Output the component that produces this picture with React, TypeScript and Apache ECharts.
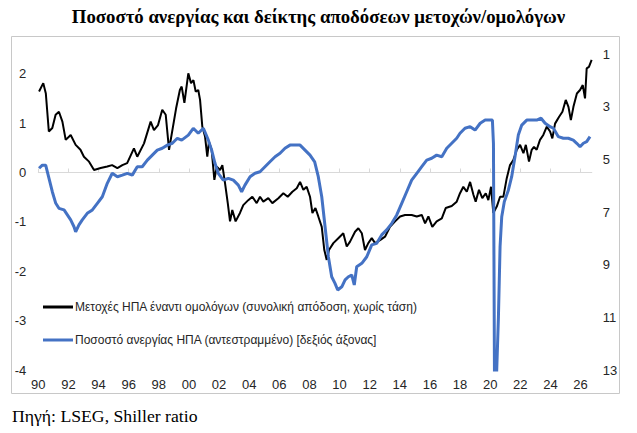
import React, { useEffect, useRef } from "react";
import * as echarts from "echarts";

const TITLE = "Ποσοστό ανεργίας και δείκτης αποδόσεων μετοχών/ομολόγων";
const SOURCE = "Πηγή: LSEG, Shiller ratio";
const SERIES_NAMES = [
  "Μετοχές ΗΠΑ έναντι ομολόγων (συνολική απόδοση, χωρίς τάση)",
  "Ποσοστό ανεργίας ΗΠΑ (αντεστραμμένο) [δεξιός άξονας]",
];

// Stocks vs bonds (detrended total return), left axis
const stockYears = [
  1990.05, 1990.33, 1990.5, 1990.7, 1990.93, 1991.15, 1991.37, 1991.6, 1991.82, 1992.15,
  1992.48, 1992.8, 1993.03, 1993.37, 1993.7, 1994.14, 1994.58, 1994.9, 1995.25, 1995.58,
  1995.9, 1996.35, 1996.57, 1997.02, 1997.46, 1997.68, 1997.95, 1998.23, 1998.46, 1998.68,
  1999.0, 1999.15, 1999.4, 1999.52, 1999.7, 1999.96, 2000.14, 2000.3, 2000.45, 2000.62,
  2000.74, 2000.89, 2001.07, 2001.22, 2001.33, 2001.51, 2001.69, 2001.85, 2002.07, 2002.22,
  2002.4, 2002.58, 2002.73, 2002.88, 2003.1, 2003.39, 2003.61, 2003.94, 2004.21, 2004.5,
  2004.72, 2004.94, 2005.27, 2005.54, 2005.94, 2006.27, 2006.56, 2006.87, 2007.16, 2007.38,
  2007.6, 2007.82, 2008.04, 2008.2, 2008.4, 2008.59, 2008.82, 2008.99, 2009.15, 2009.3,
  2009.59, 2009.92, 2010.25, 2010.48, 2010.7, 2011.03, 2011.25, 2011.48, 2011.69, 2011.91,
  2012.14, 2012.36, 2012.69, 2013.02, 2013.35, 2013.69, 2014.02, 2014.35, 2014.79, 2015.13,
  2015.46, 2015.68, 2015.9, 2016.16, 2016.45, 2016.79, 2017.05, 2017.45, 2017.78, 2018.0,
  2018.22, 2018.45, 2018.67, 2018.89, 2019.04, 2019.26, 2019.48, 2019.71, 2019.88, 2020.06,
  2020.21, 2020.44, 2020.66, 2020.88, 2021.1, 2021.32, 2021.54, 2021.77, 2021.99, 2022.21,
  2022.37, 2022.58, 2022.76, 2022.91, 2023.09, 2023.31, 2023.53, 2023.76, 2023.98, 2024.13,
  2024.31, 2024.58, 2024.8, 2025.02, 2025.2, 2025.36, 2025.53, 2025.76, 2025.97, 2026.15,
  2026.3, 2026.41, 2026.56, 2026.74,
];
const stockValues = [
  1.64, 1.81, 1.6, 0.83, 0.9, 1.17, 1.23, 1.03, 0.66, 0.76,
  0.56, 0.46, 0.32, 0.22, 0.05, 0.09, 0.12, 0.15, 0.09, 0.15,
  0.19, 0.49, 0.32, 0.59, 1.03, 0.86, 0.96, 1.27, 1.17, 0.46,
  1.03, 1.3, 1.67, 1.74, 1.41, 2.01, 1.81, 1.87, 1.64, 1.67,
  1.47, 0.93, 0.73, 0.32, 0.62, 0.46, -0.15, 0.12, 0.05, 0.15,
  -0.22, -0.62, -0.99, -0.76, -0.99, -0.82, -0.66, -0.56, -0.49, -0.62,
  -0.49, -0.59, -0.52, -0.62, -0.52, -0.42, -0.49, -0.39, -0.32, -0.19,
  -0.35, -0.29, -0.49, -0.82, -0.72, -0.89, -1.1, -1.57, -1.77, -1.57,
  -1.43, -1.33, -1.23, -1.5, -1.4, -1.2, -1.13, -1.23, -1.57, -1.43,
  -1.33, -1.43, -1.37, -1.3, -1.1, -0.99, -0.89, -0.86, -0.86, -0.89,
  -0.86, -1.03, -0.89, -1.1, -0.99, -0.93, -0.72, -0.68, -0.59, -0.42,
  -0.29, -0.39, -0.19, -0.45, -0.59, -0.35, -0.52, -0.42, -0.56, -0.29,
  -0.82, -0.69, -0.49, -0.49, -0.12, 0.15, 0.25, 0.46, 0.56, 0.39,
  0.56, 0.22, 0.46, 0.52, 0.46, 0.66, 0.76, 0.93, 0.83, 0.69,
  0.99, 1.13, 1.23, 1.47, 1.33, 1.06, 1.33, 1.6, 1.67, 1.77,
  1.5, 2.11, 2.14, 2.28,
];

// US unemployment rate (%), right axis (inverted)
const unempYears = [
  1990.05, 1990.27, 1990.49, 1990.71, 1990.93, 1991.16, 1991.37, 1991.71, 1991.93, 1992.15,
  1992.37, 1992.48, 1992.7, 1992.92, 1993.25, 1993.59, 1993.92, 1994.25, 1994.58, 1994.91,
  1995.25, 1995.58, 1995.91, 1996.24, 1996.57, 1996.9, 1997.24, 1997.57, 1997.9, 1998.23,
  1998.57, 1998.9, 1999.23, 1999.52, 1999.96, 2000.29, 2000.62, 2000.96, 2001.29, 2001.51,
  2001.73, 2001.95, 2002.28, 2002.62, 2002.95, 2003.28, 2003.5, 2003.72, 2004.06, 2004.39,
  2004.72, 2005.05, 2005.38, 2005.72, 2006.05, 2006.38, 2006.71, 2007.05, 2007.38, 2007.71,
  2008.04, 2008.35, 2008.59, 2008.82, 2009.04, 2009.26, 2009.48, 2009.7, 2009.88, 2010.15,
  2010.37, 2010.59, 2010.81, 2010.98, 2011.14, 2011.48, 2011.81, 2012.14, 2012.47, 2012.8,
  2013.13, 2013.47, 2013.8, 2014.13, 2014.46, 2014.79, 2015.13, 2015.46, 2015.79, 2016.12,
  2016.45, 2016.79, 2017.12, 2017.45, 2017.78, 2018.0, 2018.33, 2018.67, 2019.0, 2019.34,
  2019.67, 2020.0, 2020.15, 2020.22, 2020.3, 2020.42, 2020.55, 2020.66, 2020.77, 2020.94,
  2021.21, 2021.43, 2021.65, 2021.87, 2022.1, 2022.43, 2022.76, 2023.09, 2023.38, 2023.65,
  2023.98, 2024.2, 2024.53, 2024.86, 2025.19, 2025.52, 2025.75, 2025.97, 2026.19, 2026.41,
  2026.63,
];
const unempValues = [
  5.34, 5.22, 5.22, 5.72, 6.23, 6.67, 6.86, 6.92, 7.11, 7.3,
  7.56, 7.75, 7.49, 7.3, 7.05, 6.92, 6.67, 6.42, 5.91, 5.53,
  5.66, 5.6, 5.53, 5.6, 5.28, 5.28, 5.03, 4.84, 4.65, 4.58,
  4.46, 4.39, 4.2, 4.27, 4.08, 3.82, 4.01, 3.82, 4.27, 4.65,
  5.15, 5.53, 5.79, 5.72, 5.79, 5.98, 6.23, 5.98, 5.66, 5.53,
  5.47, 5.28, 5.09, 4.9, 4.77, 4.58, 4.46, 4.46, 4.46, 4.65,
  4.84, 5.1, 5.66, 6.42, 7.56, 8.7, 9.46, 9.71, 9.96, 9.84,
  9.58, 9.46, 9.39, 9.77, 9.08, 8.95, 8.7, 8.25, 8.19, 7.87,
  7.68, 7.43, 7.11, 6.67, 6.23, 5.79, 5.53, 5.28, 5.03, 4.96,
  4.84, 4.9, 4.58, 4.39, 4.2, 4.01, 3.82, 3.76, 3.89, 3.63,
  3.51, 3.51, 3.51, 4.4, 14.8, 13.3, 11.0, 8.3, 7.18, 6.61,
  6.17, 5.66, 4.9, 4.08, 3.7, 3.51, 3.51, 3.51, 3.44, 3.63,
  3.76, 3.82, 4.14, 4.2, 4.2, 4.27, 4.39, 4.52, 4.39, 4.33,
  4.14,
];

const zip = (xs: number[], ys: number[]) => xs.map((x, i) => [x, ys[i]]);

export default function App() {
  const ref = useRef<HTMLDivElement>(null);

  useEffect(() => {
    if (!ref.current) return;
    const chart = echarts.init(ref.current, null, { renderer: "svg" });
    const axisFont = { fontFamily: "Liberation Sans", fontSize: 13, color: "#262626" };
    chart.setOption({
      animation: false,
      backgroundColor: "#ffffff",
      title: {
        text: TITLE,
        left: "center",
        top: 2,
        textStyle: {
          fontFamily: "Liberation Serif",
          fontWeight: "bold",
          fontSize: 18.8,
          color: "#000000",
        },
      },
      graphic: [
        {
          type: "rect",
          shape: { x: 11.5, y: 36.5, width: 608, height: 357 },
          style: { fill: "none", stroke: "#c8c8c8", lineWidth: 1 },
          silent: true,
        },
        {
          type: "text",
          left: 12,
          top: 407,
          style: {
            text: SOURCE,
            font: "17.7px 'Liberation Serif'",
            fill: "#000000",
          },
        },
      ],
      legend: {
        orient: "vertical",
        left: 38,
        top: 296,
        icon: "rect",
        itemWidth: 30,
        itemHeight: 3,
        itemGap: 21,
        textStyle: { fontFamily: "Liberation Sans", fontSize: 12, color: "#262626", padding: [0, 0, 0, -3] },
        data: SERIES_NAMES,
      },
      grid: { left: 38.3, right: 45.2, top: 54, bottom: 63 },
      xAxis: {
        type: "value",
        min: 1990,
        max: 2026.75,
        interval: 2,
        axisLine: { show: true, lineStyle: { color: "#d9d9d9", width: 1 } },
        axisTick: { show: true, inside: true, length: 4, lineStyle: { color: "#d9d9d9" } },
        splitLine: { show: false },
        axisLabel: {
          ...axisFont,
          margin: 8,
          showMaxLabel: false,
          formatter: (v: number) =>
            Number.isInteger(v) && v % 2 === 0 ? String(v % 100).padStart(2, "0") : "",
        },
      },
      yAxis: [
        {
          type: "value",
          min: -4,
          max: 2.4,
          interval: 1,
          position: "left",
          axisLine: { show: false },
          axisTick: { show: false },
          splitLine: { show: false },
          axisLabel: {
            ...axisFont,
            margin: 12,
            formatter: (v: number) => (Number.isInteger(v) ? String(v) : ""),
          },
        },
        {
          type: "value",
          min: 1,
          max: 13,
          interval: 2,
          inverse: true,
          position: "right",
          axisLine: { show: false },
          axisTick: { show: false },
          splitLine: { show: false },
          axisLabel: { ...axisFont, margin: 11 },
        },
      ],
      series: [
        {
          name: SERIES_NAMES[0],
          type: "line",
          yAxisIndex: 0,
          data: zip(stockYears, stockValues),
          showSymbol: false,
          symbol: "none",
          lineStyle: { color: "#000000", width: 2 },
          itemStyle: { color: "#000000" },
          clip: true,
        },
        {
          name: SERIES_NAMES[1],
          type: "line",
          yAxisIndex: 1,
          data: zip(unempYears, unempValues),
          showSymbol: false,
          symbol: "none",
          lineStyle: { color: "#4472C4", width: 3 },
          itemStyle: { color: "#4472C4" },
          clip: true,
        },
      ],
    });
    return () => chart.dispose();
  }, []);

  return (
    <div
      ref={ref}
      style={{ position: "absolute", left: 0, top: 0, width: 637, height: 433 }}
    />
  );
}
